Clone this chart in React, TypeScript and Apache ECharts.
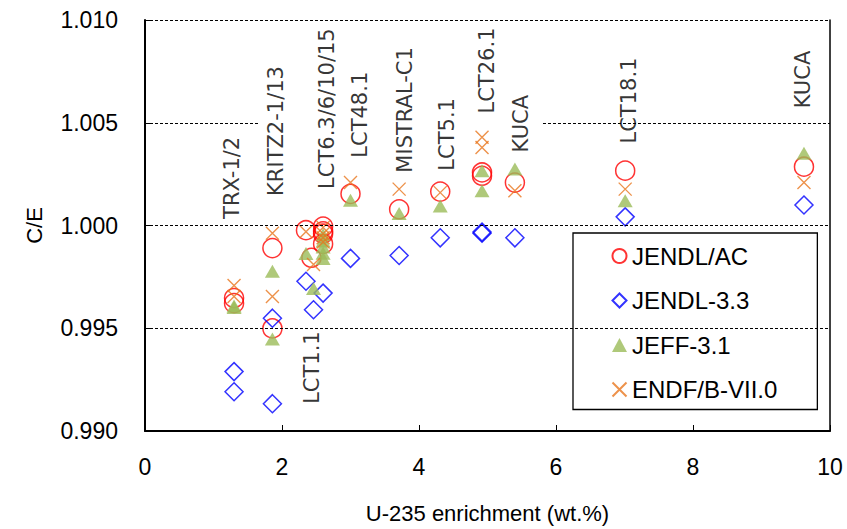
import React, { useEffect, useRef } from "react";
import * as echarts from "echarts";

// C/E values per library, [U-235 enrichment (wt.%), C/E]
const jendlAc: [number, number][] = [
  [1.3, 0.99647], [1.3, 0.99622],
  [1.86, 0.9989], [1.86, 0.99499],
  [2.35, 0.99977], [2.43, 0.99843],
  [2.6, 0.99995], [2.6, 0.99972], [2.6, 0.9996], [2.6, 0.9991],
  [3.0, 1.00154],
  [3.71, 1.00079],
  [4.31, 1.00165],
  [4.92, 1.00258], [4.92, 1.00242],
  [5.4, 1.00209],
  [7.01, 1.00267],
  [9.62, 1.00286],
];

const jendl33: [number, number][] = [
  [1.3, 0.99289], [1.3, 0.99191],
  [1.86, 0.99549], [1.86, 0.99133],
  [2.35, 0.99729], [2.46, 0.9959], [2.6, 0.99671],
  [3.0, 0.9984],
  [3.71, 0.99854],
  [4.31, 0.9994],
  [4.92, 0.99968], [4.92, 0.99962],
  [5.4, 0.9994],
  [7.01, 1.00042],
  [9.62, 1.001],
];

const jeff31: [number, number][] = [
  [1.3, 0.99601], [1.3, 0.99608],
  [1.86, 0.99777], [1.86, 0.99448],
  [2.35, 0.99864], [2.46, 0.99693],
  [2.6, 0.99955], [2.6, 0.99925], [2.6, 0.99895], [2.6, 0.99865], [2.6, 0.9984],
  [3.0, 1.00123],
  [3.71, 1.00058],
  [4.31, 1.00095],
  [4.92, 1.00267], [4.92, 1.00169],
  [5.4, 1.00275],
  [7.01, 1.0012],
  [9.62, 1.00351],
];

const endfb70: [number, number][] = [
  [1.3, 0.99708], [1.3, 0.99655],
  [1.86, 0.99962], [1.86, 0.99655],
  [2.35, 0.9997], [2.46, 0.9981],
  [2.6, 0.9999], [2.6, 0.9996], [2.6, 0.9994], [2.6, 0.9992],
  [3.0, 1.00209],
  [3.71, 1.00177],
  [4.31, 1.0016],
  [4.92, 1.00429], [4.92, 1.0038],
  [5.4, 1.00169],
  [7.01, 1.00177],
  [9.62, 1.00209],
];

// Benchmark names, anchored at the foot of each vertical label
const benchmarkNames = [
  "TRX-1/2", "KRITZ2-1/13", "LCT6.3/6/10/15", "LCT48.1", "MISTRAL-C1",
  "LCT5.1", "LCT26.1", "KUCA", "LCT18.1", "KUCA", "LCT1.1",
];
const benchmarkLabelX = [1.27, 1.91, 2.66, 3.14, 3.8, 4.41, 4.99, 5.49, 7.07, 9.61, 2.44];
const benchmarkLabelY = [
  1.00032, 1.00144, 1.00178, 1.0033, 1.00257, 1.00267, 1.00545, 1.00355, 1.00399, 1.0057, 0.99132,
];

// Dashed reference lines: [C/E, from enrichment, to enrichment]
const gridSegments: [number, number, number][] = [
  [0.995, 0, 10],
  [1.0, 0, 10],
  [1.005, 0, 1.65],
  [1.005, 5.81, 10],
  [1.01, 0, 10],
];

const xTicks = { min: 0, max: 10, interval: 2 };
const yTicks = { min: 0.99, max: 1.01, interval: 0.005 };

const SANS = "'Liberation Sans', Arial, sans-serif";
const LABEL_FONT = "'DejaVu Sans', sans-serif";

export default function App() {
  const ref = useRef<HTMLDivElement>(null);

  useEffect(() => {
    if (!ref.current) return;
    const chart = echarts.init(ref.current, undefined, { renderer: "svg" });

    const dashed = { type: [3, 2] as number[], color: "#000", width: 1 };

    const option: echarts.EChartsOption = {
      animation: false,
      backgroundColor: "#fff",
      textStyle: { fontFamily: SANS, color: "#000" },
      grid: { left: 145, top: 20, right: 17, bottom: 95, containLabel: false },
      xAxis: {
        type: "value",
        min: xTicks.min,
        max: xTicks.max,
        interval: xTicks.interval,
        name: "U-235 enrichment (wt.%)",
        nameLocation: "middle",
        nameGap: 71,
        nameTextStyle: { fontSize: 22, color: "#000", fontFamily: SANS },
        axisLine: { show: true, lineStyle: { color: "#000", width: 2 } },
        axisTick: { show: true, inside: true, length: 6, lineStyle: { color: "#000", width: 1 } },
        axisLabel: { fontSize: 23, color: "#000", margin: 24, fontFamily: SANS },
        splitLine: { show: false },
      },
      yAxis: [
        {
          type: "value",
          min: yTicks.min,
          max: yTicks.max,
          interval: yTicks.interval,
          name: "C/E",
          nameLocation: "middle",
          nameGap: 100,
          nameRotate: 90,
          nameTextStyle: { fontSize: 22, color: "#000", fontFamily: SANS },
          axisLine: { show: true, onZero: false, lineStyle: { color: "#000", width: 2 } },
          axisTick: { show: true, inside: true, length: 5, lineStyle: { color: "#000", width: 1 } },
          axisLabel: {
            fontSize: 23,
            color: "#000",
            margin: 27,
            fontFamily: SANS,
            formatter: (v: number) => v.toFixed(3),
          },
          splitLine: { show: false },
        },
        {
          // plot frame on the right-hand side
          type: "value",
          position: "right",
          min: yTicks.min,
          max: yTicks.max,
          interval: yTicks.interval,
          axisLine: { show: true, onZero: false, lineStyle: { color: "#000", width: 1.5 } },
          axisTick: { show: false },
          axisLabel: { show: false },
          splitLine: { show: false },
        },
      ],
      legend: {
        data: ["JENDL/AC", "JENDL-3.3", "JEFF-3.1", "ENDF/B-VII.0"],
        orient: "vertical",
        left: 573,
        top: 233,
        padding: [11, 40, 8, 37],
        itemWidth: 15,
        itemHeight: 14,
        itemGap: 20.5,
        backgroundColor: "#fff",
        borderColor: "#000",
        borderWidth: 1.3,
        borderRadius: 0,
        textStyle: { fontSize: 24, color: "#000", fontFamily: SANS },
      },
      series: [
        {
          type: "line",
          name: "grid",
          data: [],
          silent: true,
          markLine: {
            silent: true,
            symbol: ["none", "none"],
            label: { show: false },
            lineStyle: dashed,
            data: gridSegments.map(([y, x0, x1]) => [
              { coord: [x0, y] },
              { coord: [x1, y] },
            ]) as any,
          },
        },
        {
          type: "scatter",
          name: "JENDL/AC",
          data: jendlAc,
          symbol: "circle",
          symbolSize: 19,
          itemStyle: { color: "rgba(255,255,255,0)", borderColor: "#FF0000", borderWidth: 1.5 },
        },
        {
          type: "scatter",
          name: "JENDL-3.3",
          data: jendl33,
          symbol: "path://M5,0L10,5L5,10L0,5Z",
          symbolSize: 18,
          itemStyle: { color: "rgba(255,255,255,0)", borderColor: "#0000FF", borderWidth: 1.5 },
        },
        {
          type: "scatter",
          name: "JEFF-3.1",
          data: jeff31,
          symbol: "triangle",
          symbolSize: [15, 13],
          itemStyle: { color: "#9BBB59" },
        },
        {
          type: "scatter",
          name: "ENDF/B-VII.0",
          data: endfb70,
          symbol: "path://M0,0L10,10M10,0L0,10",
          symbolSize: 13,
          itemStyle: { color: "none", borderColor: "#E8771E", borderWidth: 1.4 },
        },
        {
          type: "scatter",
          name: "benchmarks",
          silent: true,
          symbolSize: 1,
          itemStyle: { color: "rgba(0,0,0,0)" },
          data: benchmarkNames.map((n, i) => ({
            name: n,
            value: [benchmarkLabelX[i], benchmarkLabelY[i]],
          })),
          label: {
            show: true,
            formatter: "{b}",
            position: "inside",
            rotate: 90,
            align: "left",
            verticalAlign: "middle",
            fontSize: 21,
            color: "#000",
            fontFamily: LABEL_FONT,
          },
          z: 3,
        },
      ],
    };

    chart.setOption(option);
    return () => chart.dispose();
  }, []);

  return (
    <div
      ref={ref}
      style={{ position: "fixed", left: 0, top: 0, width: 847, height: 529 }}
    />
  );
}
